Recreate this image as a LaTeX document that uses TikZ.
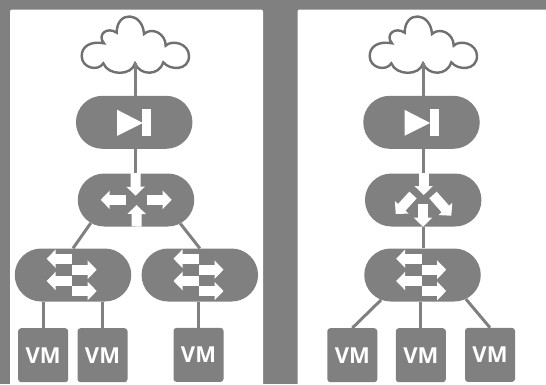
\documentclass[tikz,border=0pt]{standalone}
\usepackage{fontspec}
\setmainfont{Open Sans}
\usetikzlibrary{arrows.meta,shapes.misc}
\definecolor{netgray}{HTML}{808080}
\definecolor{cloudline}{HTML}{707070}
\tikzset{
  panel/.style={fill=white,draw=none,rounded corners=2pt},
  pill/.style={rounded rectangle,fill=netgray,draw=none,minimum width=116.5pt,minimum height=53pt,inner sep=0pt},
  vmbox/.style={rectangle,rounded corners=3pt,fill=netgray,draw=none,minimum width=50pt,minimum height=54pt,inner sep=0pt,text=white,font=\fontsize{22}{22}\selectfont\bfseries},
  link/.style={draw=netgray,line width=3pt},
  blockarrow/.style={draw=white,fill=white,line width=10pt,-{Triangle[length=9pt,width=18pt]}},
  cloud/.pic={
    \draw[cloudline,line width=2.4pt,fill=white]
      (0,18.3) .. controls (5,31) and (24.3,31) .. (28.3,17.3)
      .. controls (35,25.7) and (54,25.7) .. (54,11)
      .. controls (54,-1.7) and (36.7,-5.7) .. (30.7,0.7)
      .. controls (30.7,-11.7) and (16.7,-18.3) .. (9,-11)
      .. controls (7.7,-33.3) and (-18.3,-35) .. (-18.3,-12.3)
      .. controls (-28.3,-19) and (-38.3,-10) .. (-31,-1.7)
      .. controls (-45,-4.3) and (-53.3,1.7) .. (-53.3,11)
      .. controls (-53.3,23.3) and (-36.7,26.7) .. (-31.7,18.3)
      .. controls (-26.7,31) and (-3.3,31) .. (0,18.3) -- cycle;
    \coordinate (-stem) at (0,18.3);
  },
  playicon/.pic={
    \fill[white] (-17,-12.5) -- (-17,13.5) -- (8.7,0.7) -- cycle;
    \fill[white] (8,-13.3) rectangle (17,13.7);
  },
  switchicon/.pic={
    \draw[blockarrow] (-1,-16.3) -- (-26.3,-16.3);
    \draw[blockarrow] (-1,6) -- (-26.3,6);
    \draw[blockarrow] (-1,-5.3) -- (23.7,-5.3);
    \draw[blockarrow] (-1,16) -- (23.7,16);
  }
}
\begin{document}
\begin{tikzpicture}[x=1pt,y=-1pt]
\useasboundingbox (0,0) rectangle (546,384);
\fill[netgray] (0,0) rectangle (546,384);
\fill[panel] (10,9.5) rectangle (263,390);
\fill[panel] (297.5,9.5) rectangle (552,390);

% left panel
\pic (cloudA) at (135,45) {cloud};
\node[pill] (routerA) at (134.2,122.3) {};
\node[pill] (hubA) at (136,200) {};
\node[pill] (swA) at (73,275) {};
\node[pill] (swB) at (199.8,275) {};
\node[vmbox] (vmA) at (43.2,355.2) {VM};
\node[vmbox] (vmB) at (102.5,355.2) {VM};
\node[vmbox] (vmC) at (198.5,354.9) {VM};

\draw[link] (cloudA-stem) -- (cloudA-stem |- routerA.north);
\draw[link] (cloudA-stem |- routerA.south) -- (cloudA-stem |- hubA.north);
\draw[link] (hubA.207) -- (swA.north);
\draw[link] (hubA.332) -- (swB.north);
\draw[link] (vmA.north) -- (vmA.north |- swA.south);
\draw[link] (vmB.north) -- (vmB.north |- swA.south);
\draw[link] (vmC.north) -- (vmC.north |- swB.south);

\pic at (routerA) {playicon};
\draw[blockarrow] (135.5,173) -- (135.7,195.7);
\draw[blockarrow] (136.5,226.5) -- (136.7,205);
\draw[blockarrow] (125.7,199.8) -- (100.7,199.8);
\draw[blockarrow] (146.7,199.8) -- (171.7,199.8);
\pic at (swA) {switchicon};
\pic at (swB) {switchicon};

% right panel
\pic (cloudB) at (423,45) {cloud};
\node[pill] (routerB) at (421.5,122.3) {};
\node[pill] (hubB) at (423.2,200) {};
\node[pill] (swC) at (422.5,275) {};
\node[vmbox] (vmD) at (352.3,355.2) {VM};
\node[vmbox] (vmE) at (420.8,355.2) {VM};
\node[vmbox] (vmF) at (490,354.9) {VM};

\draw[link] (cloudB-stem) -- (cloudB-stem |- routerB.north);
\draw[link] (cloudB-stem |- routerB.south) -- (cloudB-stem |- hubB.north);
\draw[link] (hubB.south) -- (swC.north -| hubB.south);
\draw[link] (swC.211) -- (vmD.north);
\draw[link] (swC.331) -- (vmF.north);
\draw[link] (vmE.north) -- (vmE.north |- swC.south);

\pic at (routerB) {playicon};
\draw[blockarrow] (423.7,173) -- (423.7,195);
\draw[blockarrow] (423,204.3) -- (423,226.7);
\draw[blockarrow] (413,195) -- (395.7,214);
\draw[blockarrow] (433,195) -- (451.3,215.7);
\pic at (swC) {switchicon};
\end{tikzpicture}
\end{document}
